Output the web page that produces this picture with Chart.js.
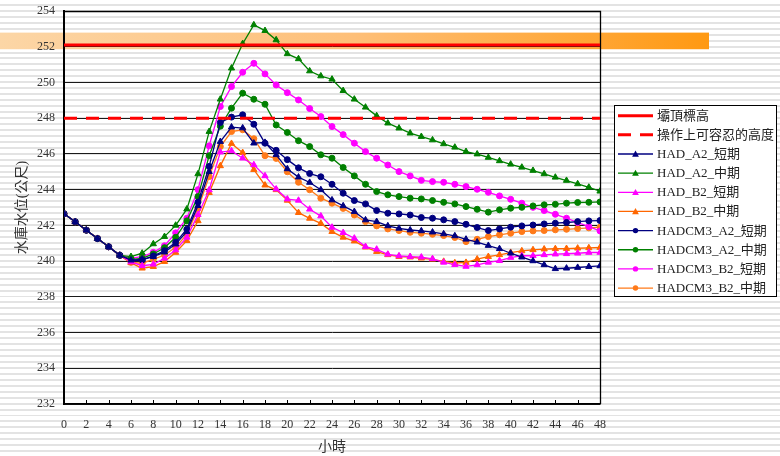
<!DOCTYPE html>
<html><head><meta charset="utf-8">
<script src="https://cdn.jsdelivr.net/npm/chart.js@4/dist/chart.umd.min.js"></script>
<style>
html,body{margin:0;padding:0;width:780px;height:456px;overflow:hidden;
background:repeating-linear-gradient(to bottom,#fff 0px,#fff 3.95px,#e3e3e3 3.95px,#e3e3e3 5.95px);}
#wrap{position:relative;width:780px;height:456px;}
canvas{display:block;}
</style></head><body><div id="wrap"><canvas id="c" width="780" height="456"></canvas></div>
<script>
// ---- data ----
const hours = [0,1,2,3,4,5,6,7,8,9,10,11,12,13,14,15,16,17,18,19,20,21,22,23,24,25,26,27,28,29,30,31,32,33,34,35,36,37,38,39,40,41,42,43,44,45,46,47,48];
const xTicks = [0,2,4,6,8,10,12,14,16,18,20,22,24,26,28,30,32,34,36,38,40,42,44,46,48];
const yTicks = [232,234,236,238,240,242,244,246,248,250,252,254];
const wallTop = 252.1;        // 壩頂標高
const tolerable = 248.0;      // 操作上可容忍的高度
const bandTop = 252.79, bandBottom = 251.86;

const hadA2Short = [242.65,242.2,241.73,241.26,240.8,240.32,240.05,240.1,240.25,240.5,240.95,241.65,243.1,245.0,246.69,247.5,247.45,246.6,246.64,245.95,245.16,244.7,244.4,243.99,243.42,243.09,242.77,242.3,242.21,241.97,241.83,241.74,241.69,241.62,241.52,241.41,241.22,241.06,240.87,240.69,240.44,240.22,240.01,239.79,239.57,239.6,239.64,239.69,239.73];
const hadA2Mid = [242.65,242.2,241.73,241.26,240.8,240.32,240.25,240.44,240.96,241.37,242.0,242.91,244.88,247.25,249.06,250.8,252.17,253.22,252.9,252.38,251.6,251.32,250.64,250.36,250.18,249.54,249.06,248.61,248.13,247.72,247.44,247.16,246.97,246.78,246.56,246.37,246.13,245.99,245.8,245.61,245.42,245.25,245.07,244.88,244.69,244.51,244.32,244.13,243.91];
const hadB2Short = [242.65,242.2,241.73,241.26,240.8,240.32,239.95,239.74,239.82,240.16,240.62,241.33,242.6,243.98,246.1,246.17,245.76,245.39,244.77,244.03,243.47,243.4,242.9,242.52,241.89,241.59,241.28,240.81,240.66,240.38,240.29,240.25,240.22,240.13,239.93,239.8,239.7,239.79,239.93,240.02,240.2,240.3,240.3,240.35,240.39,240.41,240.44,240.48,240.48];
const hadB2Mid = [242.65,242.2,241.73,241.26,240.8,240.32,239.9,239.6,239.69,239.97,240.48,241.14,242.25,243.83,245.33,246.58,246.07,245.12,244.25,243.99,243.4,242.71,242.39,242.11,241.65,241.33,241.12,240.78,240.53,240.35,240.25,240.22,240.16,240.1,239.98,239.9,239.92,240.11,240.25,240.35,240.48,240.57,240.63,240.67,240.69,240.7,240.72,240.74,240.76];
const hadcm3A2Short = [242.65,242.2,241.73,241.26,240.8,240.32,240.02,240.06,240.29,240.58,241.05,241.78,243.3,245.3,247.76,248.06,248.19,247.66,246.6,246.2,245.68,245.22,244.9,244.72,244.3,243.8,243.39,243.2,242.83,242.68,242.64,242.58,242.44,242.4,242.31,242.21,242.06,241.88,241.71,241.8,241.9,241.97,242.02,242.08,242.12,242.16,242.21,242.25,242.27];
const hadcm3A2Mid = [242.65,242.2,241.73,241.26,240.8,240.32,240.1,240.15,240.4,240.75,241.33,242.25,243.61,245.9,247.55,248.56,249.4,249.06,248.78,247.62,247.2,246.74,246.41,245.95,245.76,245.24,244.77,244.3,243.89,243.71,243.61,243.52,243.48,243.39,243.29,243.2,243.05,242.9,242.74,242.87,242.96,243.01,243.09,243.15,243.18,243.24,243.28,243.29,243.31];
const hadcm3B2Short = [242.65,242.2,241.73,241.26,240.8,240.32,240.16,240.25,240.49,240.86,241.58,242.4,244.0,246.45,248.65,249.77,250.57,251.07,250.48,249.86,249.43,249.02,248.54,248.09,247.53,247.08,246.6,246.13,245.76,245.38,245.01,244.77,244.52,244.45,244.41,244.3,244.17,244.02,243.85,243.65,243.46,243.24,243.01,242.83,242.62,242.4,242.16,241.93,241.69];
const hadcm3B2Mid = [242.65,242.2,241.73,241.26,240.8,240.32,239.93,239.88,240.1,240.34,240.77,241.5,242.95,244.73,246.41,247.25,247.35,246.85,245.9,245.75,245.0,244.41,243.99,243.52,243.24,242.95,242.58,242.21,241.97,241.8,241.71,241.61,241.56,241.5,241.43,241.32,241.09,241.22,241.37,241.47,241.56,241.65,241.69,241.71,241.75,241.78,241.82,241.86,241.9];

const seriesNames = ['HAD_A2_短期','HAD_A2_中期','HAD_B2_短期','HAD_B2_中期','HADCM3_A2_短期','HADCM3_A2_中期','HADCM3_B2_短期','HADCM3_B2_中期'];
const seriesValues = [hadA2Short,hadA2Mid,hadB2Short,hadB2Mid,hadcm3A2Short,hadcm3A2Mid,hadcm3B2Short,hadcm3B2Mid];
const seriesColors = ['#000080','#008000','#FF00FF','#FF6600','#000080','#008000','#FF00FF','#FF7A1A'];
const seriesMarkers = ['triangle','triangle','triangle','triangle','circle','circle','circle','circle'];

const FONT = "'Liberation Serif','Noto Sans CJK TC',serif";
const TXT = '#333';

const toPts = arr => arr.map((v,i)=>({x:hours[i], y:v}));
const datasets = [
  {label:'壩頂標高', data:[{x:hours[0],y:wallTop},{x:hours[hours.length-1],y:wallTop}], borderColor:'#FF0000', backgroundColor:'#FF0000', borderWidth:3, pointRadius:0},
  {label:'操作上可容忍的高度', data:[{x:hours[0],y:tolerable},{x:hours[hours.length-1],y:tolerable}], borderColor:'#FF0000', backgroundColor:'#FF0000', borderWidth:3, borderDash:[13,9], pointRadius:0}
];
seriesNames.forEach((n,i)=>{
  datasets.push({label:n, data:toPts(seriesValues[i]), borderColor:seriesColors[i], backgroundColor:seriesColors[i],
    borderWidth:1.3, pointStyle:seriesMarkers[i], pointRadius: seriesMarkers[i]==='triangle'?3.6:3.0,
    pointBorderWidth:1, pointHoverRadius:3});
});

const decor = {
  id:'decor',
  beforeDraw(chart){
    const {ctx, chartArea, scales:{y}} = chart;
    const t = y.getPixelForValue(bandTop), b = y.getPixelForValue(bandBottom);
    const right = chartArea.right + 109;
    const g = ctx.createLinearGradient(0,0,right,0);
    g.addColorStop(0,'#FCD6A6'); g.addColorStop(0.5,'#FEBF78'); g.addColorStop(1,'#FF9912');
    ctx.save(); ctx.fillStyle=g; ctx.fillRect(0,t,right,b-t); ctx.restore();
  },
  beforeDatasetsDraw(chart){
    const {ctx, chartArea:a, scales:{x}} = chart;
    ctx.save();
    ctx.strokeStyle='#000'; ctx.lineWidth=1.3;
    ctx.beginPath(); ctx.moveTo(a.left,a.top+0.5); ctx.lineTo(a.right+0.5,a.top+0.5); ctx.lineTo(a.right+0.5,a.bottom); ctx.stroke();
    ctx.lineWidth=1;
    xTicks.forEach(v=>{const p=Math.round(x.getPixelForValue(v))+0.5; ctx.beginPath(); ctx.moveTo(p,a.bottom); ctx.lineTo(p,a.bottom-4); ctx.stroke();});
    ctx.restore();
  },
  afterDraw(chart){
    const ctx = chart.ctx;
    const bx=614.5, by=105.5, bw=162, bh=191;
    ctx.save();
    ctx.fillStyle='#fff'; ctx.fillRect(bx,by,bw,bh);
    ctx.strokeStyle='#000'; ctx.lineWidth=1; ctx.strokeRect(bx,by,bw,bh);
    ctx.font = "13px "+FONT; ctx.textBaseline='middle'; ctx.textAlign='left';
    chart.data.datasets.forEach((ds,i)=>{
      const yy = 115.7 + i*19.15;
      ctx.strokeStyle = ds.borderColor; ctx.lineWidth = ds.borderWidth>2?3:1.3;
      ctx.setLineDash(ds.borderDash||[]);
      ctx.beginPath(); ctx.moveTo(618,yy); ctx.lineTo(653,yy); ctx.stroke();
      ctx.setLineDash([]);
      if (ds.pointRadius>0){
        ctx.fillStyle = ds.borderColor;
        ctx.beginPath();
        if (ds.pointStyle==='triangle'){
          const r=3.4; ctx.moveTo(635.5,yy-r); ctx.lineTo(635.5+r,yy+r*0.8); ctx.lineTo(635.5-r,yy+r*0.8); ctx.closePath();
        } else { ctx.arc(635.5,yy,2.7,0,Math.PI*2); }
        ctx.fill();
      }
      ctx.fillStyle='#222';
      ctx.fillText(ds.label, 657, yy+0.5);
    });
    ctx.restore();
  }
};

new Chart(document.getElementById('c'), {
  type:'line',
  data:{datasets},
  options:{
    responsive:false, animation:false, devicePixelRatio:1,
    layout:{padding:{left:0,right:180,top:11,bottom:0}},
    plugins:{legend:{display:false}, tooltip:{enabled:false}},
    elements:{line:{tension:0}},
    scales:{
      x:{type:'linear', min:0, max:48,
        afterFit(s){s.height=52; s.paddingLeft=0; s.paddingRight=0;},
        afterBuildTicks(s){s.ticks = xTicks.map(v=>({value:v}));},
        grid:{display:false, drawTicks:false},
        border:{display:true, color:'#000', width:1.5},
        ticks:{font:{family:FONT,size:12}, color:TXT, padding:14, maxRotation:0, autoSkip:false},
        title:{display:true, text:'小時', font:{family:FONT,size:14}, color:TXT, padding:{top:0,bottom:0}}
      },
      y:{type:'linear', min:232, max:254,
        afterFit(s){s.width=64; s.paddingTop=0; s.paddingBottom=0;},
        afterBuildTicks(s){s.ticks = yTicks.map(v=>({value:v}));},
        grid:{color:'#1a1a1a', lineWidth:1, drawTicks:false},
        border:{display:true, color:'#000', width:2},
        ticks:{font:{family:FONT,size:12}, color:TXT, padding:9},
        title:{display:true, text:'水庫水位(公尺)', font:{family:FONT,size:14}, color:TXT, padding:{top:14,bottom:0}}
      }
    }
  },
  plugins:[decor]
});
</script></body></html>
